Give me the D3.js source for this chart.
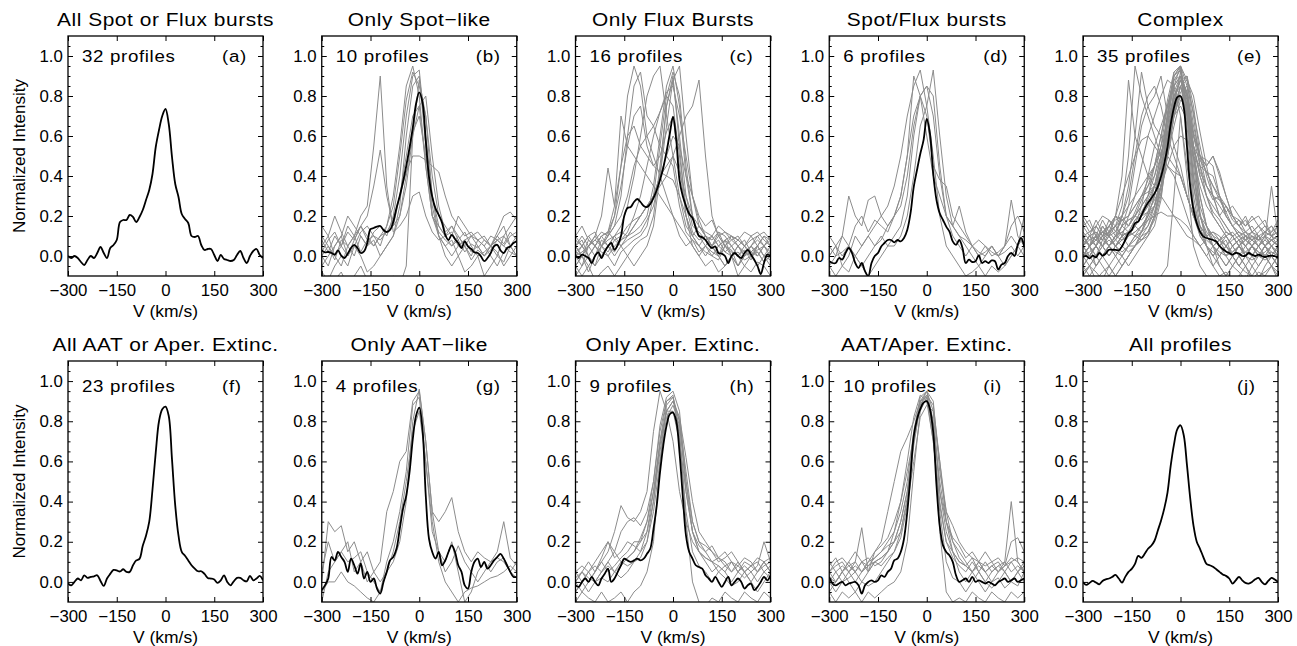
<!DOCTYPE html>
<html><head><meta charset="utf-8">
<script src="https://cdn.jsdelivr.net/npm/d3@7"></script>
<style>body{margin:0;background:#fff}text{font-family:"Liberation Sans",Arial,Helvetica,sans-serif;fill:#000;font-weight:normal}</style>
</head><body><svg id="c" width="1297" height="646"></svg>
<script>
// ---------------- DATA ----------------
const vFine = d3.range(-300, 301, 10);    // velocity grid of the mean profiles (km/s)
const vCoarse = d3.range(-300, 301, 20);  // velocity grid of individual profiles (km/s)
const xTicks = [-300, -150, 0, 150, 300];
const yTicks = [0, 0.2, 0.4, 0.6, 0.8, 1.0];
const xDomain = [-300, 300];
const yDomain = [-0.1, 1.1];

const panelTitles = ["All Spot or Flux bursts","Only Spot\u2212like","Only Flux Bursts","Spot/Flux bursts","Complex",
  "All AAT or Aper. Extinc.","Only AAT\u2212like","Only Aper. Extinc.","AAT/Aper. Extinc.","All profiles"];
const panelLetters = ["(a)","(b)","(c)","(d)","(e)","(f)","(g)","(h)","(i)","(j)"];
const profileCounts = ["32 profiles","10 profiles","16 profiles","6 profiles","35 profiles",
  "23 profiles","4 profiles","9 profiles","10 profiles",""];

const meanA = [0.0,-0.01,0.0,-0.01,-0.03,-0.045,-0.02,0.0,-0.01,0.015,
 0.045,0.015,-0.01,0.04,0.055,0.08,0.17,0.18,0.18,0.205,
 0.195,0.17,0.195,0.23,0.28,0.33,0.41,0.545,0.63,0.70,
 0.735,
 0.66,0.495,0.36,0.295,0.21,0.185,0.165,0.10,0.095,0.10,
 0.055,0.03,0.035,0.035,0.005,-0.025,0.005,-0.015,-0.02,-0.025,
 -0.02,0.005,0.025,-0.01,-0.035,0.0,0.025,0.035,0.005,-0.01];
const meanB = [0.028,0.018,0.02,0.015,0.007,0.028,0.002,-0.01,0.012,0.04,
 0.056,0.04,0.015,0.023,0.065,0.134,0.14,0.147,0.15,0.13,
 0.12,0.13,0.17,0.24,0.3,0.37,0.45,0.54,0.64,0.76,
 0.818,
 0.768,0.578,0.396,0.296,0.238,0.205,0.167,0.106,0.08,0.106,
 0.085,0.065,0.04,0.073,0.048,0.035,0.018,0.015,-0.002,-0.026,
 -0.01,0.015,0.048,0.056,0.028,0.015,0.04,0.048,0.065,0.073];
const meanC = [0.0,-0.01,0.007,0.0,-0.01,-0.035,0.0,0.018,-0.01,0.023,
 0.048,0.065,0.031,0.056,0.1,0.2,0.24,0.245,0.27,0.285,
 0.27,0.25,0.245,0.26,0.29,0.33,0.38,0.44,0.52,0.61,
 0.695,
 0.58,0.38,0.3,0.25,0.21,0.19,0.14,0.1,0.094,0.08,
 0.056,0.04,0.048,0.015,0.012,0.0,-0.035,0.0,0.015,0.0,
 -0.01,0.015,0.031,0.007,-0.018,-0.05,-0.09,-0.035,0.007,0.0];
const meanD = [-0.026,-0.035,-0.035,-0.01,-0.018,0.015,0.04,0.015,-0.035,-0.06,
 -0.035,-0.076,-0.1,-0.035,0.0,0.015,0.048,0.065,0.08,0.08,
 0.068,0.08,0.073,0.09,0.13,0.213,0.346,0.43,0.51,0.578,
 0.685,
 0.61,0.41,0.28,0.213,0.18,0.147,0.122,0.073,0.056,0.08,
 0.04,-0.035,-0.018,-0.03,-0.026,0.003,-0.035,-0.026,-0.035,-0.022,
 -0.026,-0.068,-0.043,-0.035,0.0,0.015,0.0,0.056,0.09,0.048];
const meanE = [-0.005,0,-0.012,0.002,-0.007,0.015,0.002,0.012,0.031,0.031,
 0.031,0.028,0.048,0.08,0.114,0.13,0.164,0.172,0.205,0.238,
 0.266,0.288,0.313,0.346,0.396,0.462,0.545,0.66,0.743,0.793,
 0.8,
 0.743,0.545,0.346,0.23,0.164,0.122,0.098,0.09,0.085,0.08,
 0.073,0.05,0.035,0.023,0.015,0.007,0.015,0.012,0.0,0.002,
 0.015,0.007,0,0.007,0,-0.005,0,0.002,0,-0.01];
const meanF = [-0.008,-0.017,0.0,0.017,0.008,0.033,0.02,0.025,0.028,0.033,
 0.005,-0.02,0.017,0.04,0.06,0.057,0.052,0.063,0.05,0.05,
 0.083,0.107,0.115,0.18,0.23,0.3,0.46,0.645,0.8,0.86,
 0.873,
 0.826,0.61,0.38,0.23,0.15,0.13,0.107,0.083,0.066,0.053,
 0.053,0.04,0.02,0.017,0.012,-0.005,0.008,0.033,0.0,-0.017,
 0.003,0.02,0.02,0.008,0.003,0.03,0.008,0.017,0.03,0.008];
const meanG = [-0.04,-0.017,0.017,0.124,0.107,0.149,0.124,0.1,0.05,0.116,
 0.083,0.041,0.091,0.017,0.05,0.0,0.017,-0.033,-0.058,0.0,
 0.05,0.107,0.124,0.165,0.264,0.364,0.43,0.545,0.71,0.826,
 0.868,
 0.76,0.43,0.215,0.149,0.116,0.149,0.083,0.107,0.149,0.182,
 0.149,0.083,0.05,-0.017,-0.033,0.05,0.1,0.116,0.074,0.1,
 0.066,0.083,0.107,0.124,0.14,0.116,0.083,0.05,0.025,0.025];
const meanH = [-0.017,-0.025,0,0.017,0,0.025,0,-0.017,0.017,0.041,
 0.066,0,0.017,0.05,0.083,0.116,0.107,0.1,0.107,0.116,
 0.107,0.116,0.14,0.165,0.264,0.38,0.545,0.678,0.777,0.835,
 0.843,
 0.8,0.645,0.43,0.231,0.149,0.116,0.083,0.074,0.066,0.033,
 0.017,0,0.025,0,-0.025,0,0.025,-0.017,0,0.017,
 0,-0.033,-0.017,-0.008,-0.041,-0.025,0,0.025,0.008,0.033];
const meanI = [0.025,-0.008,-0.017,-0.008,0,-0.017,-0.008,-0.003,0,-0.017,
 -0.058,-0.017,0,0.008,0,0.008,0.033,0.025,0.05,0.066,
 0.107,0.116,0.149,0.215,0.347,0.529,0.727,0.81,0.86,0.893,
 0.9,
 0.86,0.744,0.48,0.28,0.182,0.149,0.132,0.1,0.033,0,
 0.008,0.017,0,0.025,0,0.008,0,-0.008,0,-0.008,
 -0.017,0,0.008,0.017,0,0.008,0.017,0,0.008,0.017];
const meanJ = [0.0,-0.015,-0.005,0.005,-0.003,-0.012,0.005,0.013,0.017,0.025,
 0.035,0.017,-0.003,0.025,0.05,0.065,0.09,0.13,0.12,0.14,
 0.165,0.18,0.205,0.255,0.305,0.365,0.445,0.58,0.685,0.76,
 0.78,
 0.73,0.58,0.415,0.28,0.2,0.165,0.125,0.09,0.083,0.075,
 0.063,0.05,0.037,0.03,0.017,-0.008,0.008,0.025,0.008,-0.005,
 -0.008,0.0,0.013,0.02,0.0,-0.012,0.005,0.02,0.012,0.0];

const grayB = [
 [0.02,0.08,0.12,0.05,0.15,0.1,0.2,0.25,0.55,0.9,0.35,0.12,0.15,0.2,0.3,0.32,0.2,0.12,0.08,0.1,0.05,0.08,0.02,0.06,0.04,0.08,0.05,0.1,0.06,0.12,0.08],
 [0.0,-0.05,0.05,0.1,0.0,0.08,0.15,0.2,0.35,0.53,0.3,0.15,0.3,0.5,0.7,0.75,0.45,0.2,0.1,0.05,0.08,0.0,0.05,-0.02,0.03,0.0,0.05,0.02,-0.05,0.0,0.05],
 [0.1,0.05,0.0,-0.05,0.05,0.1,0.02,0.08,0.05,0.1,0.15,0.3,0.55,0.85,0.95,0.8,0.45,0.2,0.15,0.1,0.12,0.05,0.08,0.1,0.05,0.0,0.05,0.08,0.1,0.05,0.0],
 [-0.05,0.0,0.05,0.1,0.2,0.15,0.1,0.05,0.12,0.15,0.1,0.2,0.4,0.7,0.9,0.93,0.6,0.3,0.15,0.1,0.15,0.08,0.12,0.05,0.0,0.02,0.05,0.0,0.1,0.15,0.2],
 [0.05,0.1,0.0,0.05,0.12,0.08,0.15,0.1,0.05,0.1,0.12,0.18,0.3,0.42,0.5,0.5,0.48,0.45,0.42,0.3,0.2,0.15,0.1,0.12,0.08,0.05,0.1,0.08,0.05,0.1,0.12],
 [-0.15,-0.1,-0.12,-0.08,-0.15,-0.1,-0.05,-0.12,-0.1,-0.15,-0.12,-0.1,-0.15,-0.05,0.6,0.88,0.7,0.3,0.1,0.05,0.0,0.05,0.08,0.02,0.05,0.0,0.03,0.08,0.05,0.02,0.0],
 [0.15,0.1,0.2,0.12,0.05,0.1,0.15,0.08,0.1,0.05,0.15,0.25,0.5,0.78,0.92,0.85,0.7,0.4,0.2,0.15,0.1,0.2,0.15,0.1,0.08,0.1,0.05,0.12,0.2,0.22,0.18],
 [0.0,0.05,-0.02,0.08,0.05,0.0,0.1,0.05,0.08,0.0,0.05,0.1,0.25,0.6,0.85,0.9,0.55,0.2,0.12,0.08,0.05,0.1,0.05,0.0,0.08,0.05,0.0,-0.05,0.02,0.05,0.0],
 [0.08,0.02,0.1,0.05,0.0,0.05,0.12,0.15,0.1,0.08,0.12,0.15,0.2,0.35,0.6,0.75,0.8,0.5,0.25,0.12,0.15,0.1,0.05,0.1,0.12,0.08,0.05,0.1,0.15,0.05,0.1],
 [-0.08,-0.12,-0.05,0.0,-0.05,0.05,0.0,-0.08,-0.05,0.0,0.05,0.1,0.2,0.4,0.62,0.7,0.5,0.25,0.1,0.0,-0.05,0.0,-0.08,-0.05,0.0,-0.1,-0.05,0.0,-0.03,0.05,0.08]
];
const grayC = [
 [0.05,0.0,0.08,0.05,0.1,0.12,0.2,0.45,0.8,0.95,0.85,0.6,0.5,0.4,0.3,0.2,0.1,0.05,0.08,0.02,0.05,0.0,-0.02,0.05,0.03,-0.05,0.0,0.05,0.02,-0.03,0.0],
 [0.0,0.05,0.0,-0.05,0.05,0.1,0.15,0.3,0.6,0.85,0.92,0.7,0.65,0.55,0.5,0.45,0.25,0.12,0.08,0.05,0.1,0.05,0.0,0.08,0.05,0.0,0.03,-0.02,0.05,0.0,-0.05],
 [-0.05,0.0,0.05,0.1,0.2,0.44,0.25,0.7,0.55,0.5,0.45,0.4,0.35,0.3,0.25,0.2,0.15,0.1,0.05,0.0,0.05,0.02,0.0,-0.05,0.0,0.05,0.02,0.0,0.03,0.05,0.0],
 [0.05,0.0,-0.05,0.0,0.05,0.02,0.08,0.05,0.1,0.15,0.2,0.25,0.3,0.35,0.4,0.5,0.6,0.7,0.75,0.88,0.5,0.2,0.1,0.05,0.08,0.05,0.0,0.05,0.1,0.05,0.02],
 [0.0,-0.05,0.05,0.0,0.08,0.05,0.1,0.15,0.25,0.4,0.6,0.8,0.9,0.95,0.7,0.5,0.3,0.15,0.1,0.05,0.0,0.05,0.08,0.02,0.0,-0.05,0.02,0.05,0.0,0.05,0.08],
 [0.1,0.05,0.0,0.05,0.02,0.0,0.05,0.08,0.1,0.12,0.15,0.2,0.35,0.6,0.85,0.95,0.75,0.4,0.2,0.1,0.08,0.05,0.1,0.05,0.0,0.05,0.08,0.02,0.05,0.0,0.05],
 [-0.05,0.0,-0.08,0.0,0.05,0.0,-0.05,0.02,0.05,0.08,0.1,0.15,0.3,0.55,0.8,0.92,0.8,0.45,0.2,0.1,0.05,0.1,0.05,0.02,0.05,0.0,-0.05,0.0,0.02,-0.03,0.0],
 [0.02,0.05,0.1,0.05,0.0,0.05,0.1,0.05,0.08,0.1,0.12,0.18,0.25,0.4,0.65,0.88,0.95,0.6,0.3,0.15,0.1,0.05,0.12,0.1,0.05,0.08,0.05,0.0,0.05,0.1,0.05],
 [0.05,0.08,0.0,0.05,0.1,0.05,0.0,0.05,0.0,0.05,0.08,0.1,0.2,0.45,0.75,0.88,0.6,0.3,0.15,0.12,0.08,0.1,0.05,0.08,0.1,0.05,0.0,0.05,0.08,0.05,0.1],
 [0.0,0.02,0.05,0.08,0.05,0.1,0.15,0.2,0.3,0.45,0.55,0.6,0.65,0.72,0.8,0.75,0.5,0.25,0.12,0.08,0.1,0.05,0.0,0.05,0.02,0.0,0.05,0.02,0.0,0.05,0.0],
 [-0.1,-0.05,0.0,-0.05,0.0,0.05,0.02,0.08,0.12,0.2,0.3,0.45,0.6,0.72,0.82,0.85,0.7,0.5,0.3,0.18,0.1,0.05,0.0,-0.05,0.0,0.02,-0.02,0.0,-0.05,0.0,-0.02],
 [-0.05,-0.1,-0.05,-0.12,-0.08,-0.05,-0.1,-0.05,0.0,-0.05,0.0,0.05,0.15,0.4,0.75,0.9,0.55,0.2,0.05,0.0,-0.05,-0.02,-0.08,-0.05,0.0,-0.1,-0.05,-0.08,-0.03,-0.05,-0.1],
 [0.05,0.1,0.05,0.08,0.12,0.1,0.2,0.35,0.55,0.7,0.75,0.55,0.45,0.5,0.62,0.7,0.45,0.2,0.1,0.15,0.1,0.08,0.12,0.05,0.1,0.08,0.05,0.1,0.12,0.08,0.05],
 [0.08,0.05,0.1,0.12,0.05,0.08,0.1,0.12,0.1,0.15,0.2,0.25,0.3,0.4,0.5,0.6,0.55,0.4,0.3,0.2,0.15,0.18,0.1,0.12,0.08,0.1,0.05,0.08,0.1,0.12,0.08],
 [0.02,0.0,0.05,0.1,0.05,0.12,0.25,0.45,0.6,0.65,0.55,0.5,0.45,0.42,0.4,0.38,0.3,0.2,0.1,0.05,0.02,0.0,0.05,0.08,0.0,-0.05,0.0,0.02,0.05,0.0,0.02],
 [0.1,0.15,0.08,0.05,0.1,0.12,0.08,0.1,0.15,0.18,0.2,0.25,0.3,0.4,0.45,0.5,0.42,0.3,0.2,0.15,0.12,0.1,0.15,0.12,0.1,0.08,0.12,0.1,0.05,0.1,0.08]
];
const grayD = [
 [0.0,0.05,-0.05,0.0,0.1,0.05,0.1,0.15,0.2,0.25,0.35,0.5,0.7,0.85,0.93,0.75,0.93,0.6,0.3,0.15,0.1,0.05,0.0,-0.05,0.0,0.05,0.0,0.05,0.1,0.05,0.0],
 [0.05,0.0,0.1,0.3,0.2,0.15,0.28,0.3,0.2,0.15,0.2,0.3,0.5,0.9,0.8,0.6,0.4,0.3,0.2,0.15,0.1,0.08,0.05,0.0,0.02,0.05,0.0,0.05,0.28,0.1,0.05],
 [-0.05,0.0,0.02,0.05,0.0,0.05,0.1,0.05,0.08,0.15,0.2,0.3,0.5,0.7,0.8,0.85,0.7,0.4,0.2,0.15,0.25,0.12,0.05,0.0,0.05,0.02,0.0,-0.05,0.0,0.05,0.2],
 [-0.05,-0.1,-0.05,-0.08,0.0,-0.05,-0.1,-0.05,0.0,0.05,0.05,0.1,0.2,0.4,0.65,0.75,0.5,0.2,0.05,0.0,-0.05,-0.1,-0.08,-0.05,-0.1,-0.05,-0.08,-0.05,0.0,0.05,0.1],
 [0.0,0.05,0.1,0.05,0.15,0.2,0.12,0.18,0.15,0.12,0.2,0.25,0.4,0.65,0.8,0.7,0.45,0.38,0.35,0.2,0.15,0.1,0.05,0.08,0.05,0.0,0.02,0.05,0.15,0.2,0.12],
 [0.1,0.05,0.0,0.05,0.0,-0.05,0.0,0.05,0.1,0.05,0.1,0.15,0.3,0.6,0.8,0.85,0.8,0.45,0.2,0.1,0.05,0.0,0.05,0.02,0.0,0.05,0.0,0.02,0.05,0.0,0.05]
];
const grayE = [
 [0.05,0.1,0.05,0.15,0.1,0.2,0.4,0.88,0.6,0.5,0.4,0.35,0.3,0.25,0.2,0.15,0.1,0.08,0.05,0.0,0.05,0.02,0.0,0.05,0.0,0.02,0.05,0.0,0.05,0.02,0.0],
 [0.0,0.05,0.1,0.05,0.12,0.15,0.25,0.5,0.95,0.8,0.7,0.6,0.5,0.45,0.4,0.3,0.2,0.1,0.05,0.08,0.05,0.0,-0.05,0.0,0.05,0.0,-0.02,0.0,0.05,0.0,-0.05],
 [0.1,0.05,0.15,0.1,0.18,0.12,0.2,0.35,0.6,0.92,0.75,0.65,0.6,0.5,0.45,0.4,0.3,0.2,0.15,0.1,0.12,0.08,0.1,0.05,0.08,0.1,0.05,0.0,0.05,0.08,0.1],
 [0.05,0.0,0.05,0.1,0.05,0.1,0.15,0.25,0.45,0.65,0.75,0.8,0.9,0.7,0.55,0.45,0.3,0.2,0.12,0.1,0.05,0.08,0.05,0.0,0.05,0.02,0.0,0.05,0.0,-0.05,0.0],
 [-0.05,0.0,0.05,0.0,0.05,0.1,0.2,0.3,0.5,0.7,0.8,0.85,0.75,0.6,0.5,0.4,0.3,0.2,0.1,0.05,0.0,0.05,0.0,-0.05,0.0,0.05,0.0,-0.05,0.0,0.02,0.0],
 [0.0,0.05,0.1,0.08,0.12,0.15,0.1,0.2,0.3,0.45,0.6,0.7,0.8,0.88,0.85,0.7,0.45,0.25,0.15,0.1,0.12,0.1,0.05,0.08,0.1,0.05,0.08,0.1,0.05,0.0,0.05],
 [0.15,0.1,0.18,0.12,0.15,0.2,0.15,0.18,0.2,0.25,0.3,0.4,0.55,0.75,0.9,0.95,0.85,0.6,0.45,0.35,0.3,0.25,0.2,0.15,0.18,0.12,0.15,0.1,0.12,0.15,0.1],
 [0.0,-0.05,0.0,0.05,0.0,0.05,0.1,0.05,0.08,0.12,0.2,0.3,0.45,0.7,0.9,0.95,0.75,0.4,0.2,0.1,0.05,0.08,0.02,0.0,0.05,0.0,-0.05,0.0,0.05,0.0,-0.05],
 [-0.1,-0.05,-0.12,-0.08,-0.05,-0.1,-0.05,0.0,0.05,0.1,0.15,0.25,0.4,0.65,0.88,0.93,0.7,0.35,0.15,0.05,0.0,-0.05,-0.1,-0.05,-0.08,-0.12,-0.05,-0.1,-0.08,-0.05,-0.1],
 [0.05,0.1,0.08,0.15,0.1,0.12,0.18,0.2,0.25,0.3,0.35,0.45,0.6,0.78,0.92,0.95,0.88,0.65,0.5,0.45,0.5,0.4,0.3,0.2,0.15,0.1,0.12,0.08,0.1,0.05,0.08],
 [0.1,0.05,0.0,0.05,0.1,0.05,0.08,0.1,0.15,0.2,0.25,0.35,0.5,0.7,0.85,0.9,0.82,0.6,0.5,0.48,0.45,0.3,0.2,0.15,0.1,0.12,0.08,0.05,0.1,0.08,0.05],
 [0.0,0.05,-0.05,0.0,0.05,0.02,0.0,0.05,0.1,0.08,0.12,0.2,0.35,0.6,0.82,0.9,0.65,0.3,0.12,0.05,0.0,0.05,0.08,0.0,-0.05,0.0,0.05,0.02,0.0,0.05,0.0],
 [0.2,0.15,0.1,0.18,0.12,0.15,0.1,0.12,0.18,0.2,0.25,0.3,0.42,0.6,0.8,0.88,0.8,0.55,0.4,0.3,0.25,0.2,0.25,0.18,0.15,0.2,0.12,0.15,0.18,0.1,0.12],
 [-0.05,0.0,0.05,0.0,-0.05,0.0,0.05,0.1,0.15,0.25,0.4,0.55,0.65,0.75,0.85,0.9,0.8,0.55,0.3,0.15,0.08,0.05,0.0,0.05,0.0,-0.05,0.0,0.05,0.0,-0.05,0.0],
 [0.05,0.08,0.1,0.05,0.0,0.05,0.1,0.12,0.1,0.15,0.2,0.25,0.35,0.55,0.78,0.88,0.9,0.7,0.45,0.3,0.2,0.15,0.1,0.12,0.08,0.05,0.1,0.08,0.12,0.1,0.05],
 [0.1,0.12,0.15,0.2,0.18,0.15,0.2,0.25,0.3,0.35,0.4,0.45,0.55,0.68,0.8,0.85,0.75,0.55,0.42,0.35,0.3,0.28,0.25,0.2,0.18,0.15,0.2,0.15,0.12,0.15,0.1],
 [0.0,0.05,0.1,0.05,0.08,0.05,0.0,0.05,0.05,0.1,0.12,0.18,0.3,0.5,0.75,0.92,0.8,0.45,0.2,0.12,0.08,0.05,0.1,0.05,0.08,0.0,0.05,0.1,0.05,0.08,0.1],
 [-0.08,-0.05,0.0,-0.05,-0.1,-0.05,0.0,-0.05,0.0,0.05,0.1,0.2,0.35,0.55,0.75,0.85,0.7,0.4,0.2,0.1,0.05,0.0,-0.05,0.0,-0.05,-0.08,-0.1,-0.05,0.0,-0.05,-0.08],
 [0.12,0.08,0.05,0.1,0.15,0.1,0.12,0.15,0.2,0.28,0.35,0.4,0.5,0.62,0.78,0.88,0.82,0.62,0.5,0.42,0.35,0.3,0.22,0.15,0.12,0.1,0.08,0.12,0.15,0.1,0.12],
 [0.05,0.0,0.05,0.1,0.05,0.08,0.12,0.1,0.15,0.12,0.18,0.25,0.4,0.68,0.92,0.95,0.72,0.35,0.2,0.15,0.1,0.08,0.12,0.1,0.05,0.08,0.12,0.1,0.05,0.1,0.15],
 [0.0,0.05,0.0,0.08,0.12,0.2,0.18,0.15,0.2,0.25,0.3,0.35,0.45,0.6,0.75,0.8,0.7,0.5,0.35,0.25,0.2,0.15,0.1,0.05,0.08,0.05,0.0,0.05,0.08,0.05,0.0],
 [0.08,0.05,0.1,0.05,0.0,0.05,0.02,0.05,0.1,0.12,0.15,0.22,0.35,0.52,0.7,0.82,0.85,0.72,0.55,0.4,0.3,0.2,0.15,0.1,0.05,0.08,0.05,0.0,0.05,0.08,0.05],
 [-0.05,-0.1,-0.05,0.0,0.05,0.0,-0.05,0.0,0.05,0.08,0.12,0.2,0.32,0.5,0.7,0.8,0.72,0.5,0.3,0.15,0.05,-0.05,-0.1,-0.05,0.0,-0.05,-0.1,-0.12,-0.05,0.0,-0.05],
 [0.15,0.18,0.1,0.12,0.15,0.18,0.2,0.15,0.22,0.3,0.38,0.45,0.52,0.6,0.7,0.75,0.68,0.55,0.48,0.42,0.35,0.28,0.22,0.25,0.2,0.15,0.18,0.2,0.15,0.12,0.15],
 [0.0,0.02,0.05,0.0,0.05,0.08,0.05,0.1,0.12,0.15,0.2,0.3,0.48,0.72,0.9,0.93,0.8,0.5,0.25,0.15,0.1,0.05,0.0,0.02,0.05,0.0,0.05,0.0,0.02,0.05,0.0],
 [0.05,0.1,0.12,0.08,0.05,0.1,0.15,0.12,0.18,0.22,0.28,0.35,0.45,0.58,0.72,0.85,0.88,0.8,0.62,0.45,0.3,0.2,0.15,0.1,0.12,0.08,0.1,0.05,0.08,0.35,0.1],
 [-0.1,-0.05,-0.08,-0.12,-0.05,-0.1,-0.05,0.0,0.05,0.12,0.22,0.35,0.5,0.65,0.8,0.88,0.78,0.5,0.22,0.05,-0.05,-0.1,-0.08,-0.12,-0.1,-0.05,-0.12,-0.08,-0.1,-0.05,-0.12],
 [0.1,0.05,0.08,0.12,0.1,0.15,0.18,0.2,0.25,0.3,0.32,0.35,0.4,0.5,0.65,0.78,0.75,0.6,0.5,0.45,0.5,0.42,0.3,0.2,0.15,0.12,0.1,0.08,0.12,0.1,0.08],
 [0.02,0.0,-0.05,0.0,0.05,0.0,0.05,0.02,0.05,0.08,0.1,0.15,0.28,0.55,0.85,0.95,0.6,0.25,0.1,0.05,0.02,0.0,0.05,0.0,-0.05,0.0,0.05,0.0,-0.02,0.0,0.05],
 [0.05,0.1,0.05,0.0,0.05,0.1,0.08,0.12,0.15,0.2,0.3,0.45,0.6,0.75,0.88,0.9,0.75,0.55,0.4,0.3,0.22,0.18,0.12,0.1,0.05,0.1,0.08,0.05,0.1,0.05,0.08],
 [0.0,0.05,0.08,0.05,0.1,0.05,0.1,0.12,0.15,0.2,0.22,0.28,0.35,0.45,0.55,0.6,0.58,0.5,0.45,0.42,0.4,0.3,0.2,0.15,0.1,0.08,0.05,0.1,0.05,0.08,0.05],
 [-0.15,-0.1,-0.12,-0.15,-0.1,-0.12,-0.15,-0.1,-0.12,-0.1,-0.15,-0.12,-0.1,-0.05,0.3,0.7,0.4,0.05,-0.05,-0.1,-0.12,-0.15,-0.1,-0.12,-0.15,-0.1,-0.12,-0.1,-0.15,-0.12,-0.1],
 [0.18,0.12,0.15,0.1,0.12,0.08,0.15,0.18,0.2,0.18,0.22,0.25,0.35,0.5,0.7,0.85,0.9,0.75,0.5,0.35,0.28,0.3,0.25,0.2,0.15,0.18,0.12,0.15,0.1,0.12,0.18],
 [0.05,0.1,0.12,0.08,0.15,0.2,0.3,0.4,0.5,0.58,0.6,0.55,0.5,0.45,0.42,0.4,0.3,0.2,0.12,0.1,0.05,0.08,0.05,0.1,0.05,0.0,0.05,0.08,0.05,0.0,0.05],
 [0.1,0.05,0.08,0.12,0.1,0.05,0.08,0.1,0.12,0.15,0.18,0.2,0.22,0.2,0.2,0.18,0.15,0.1,0.05,0.0,-0.05,0.0,0.05,0.02,0.05,0.0,0.05,0.02,0.0,0.05,0.02]
];
const grayG = [
 [0.0,0.3,0.25,0.28,0.15,0.2,0.1,0.15,0.05,0.1,0.35,0.45,0.6,0.65,0.9,0.95,0.7,0.35,0.3,0.35,0.42,0.25,0.15,0.1,0.15,0.12,0.1,0.15,0.3,0.12,0.08],
 [-0.1,0.05,0.1,0.15,0.1,0.12,0.15,0.05,0.0,-0.05,0.1,0.2,0.35,0.55,0.88,0.92,0.6,0.25,0.15,0.1,0.2,0.05,-0.1,-0.05,0.05,0.1,0.05,0.1,0.12,0.05,0.02],
 [-0.05,0.0,0.0,0.05,0.0,-0.02,-0.05,-0.08,-0.1,-0.05,0.05,0.15,0.3,0.5,0.75,0.85,0.6,0.3,0.1,0.0,-0.05,-0.1,-0.05,-0.03,-0.02,0.0,0.02,0.03,0.05,0.08,0.05],
 [0.05,0.2,0.1,0.15,0.2,0.05,0.1,0.0,0.05,0.0,0.05,0.1,0.2,0.4,0.8,0.96,0.7,0.35,0.15,0.05,0.1,0.18,0.1,0.05,0.0,0.05,0.1,0.12,0.1,0.05,0.1]
];
const grayH = [
 [0.0,0.05,0.0,0.05,0.1,0.15,0.25,0.38,0.32,0.3,0.35,0.45,0.75,0.95,0.85,0.7,0.45,0.3,0.2,0.15,0.12,0.1,0.08,0.05,0.1,0.05,0.08,0.05,0.0,0.05,0.02],
 [-0.05,0.0,0.05,0.0,0.05,0.1,0.15,0.25,0.3,0.32,0.28,0.35,0.5,0.75,0.9,0.92,0.8,0.45,0.25,0.18,0.15,0.1,0.12,0.08,0.05,0.1,0.05,0.08,0.1,0.05,0.08],
 [-0.1,-0.05,-0.08,-0.1,-0.05,-0.1,-0.08,-0.05,-0.1,-0.05,-0.02,0.05,0.2,0.6,0.88,0.92,0.75,0.3,0.0,-0.1,-0.12,-0.08,-0.1,-0.05,-0.08,-0.1,-0.05,-0.08,-0.1,-0.05,-0.08],
 [0.05,0.0,0.05,0.08,0.05,0.1,0.05,0.08,0.12,0.15,0.2,0.3,0.5,0.78,0.92,0.95,0.85,0.5,0.25,0.15,0.12,0.1,0.05,0.08,0.1,0.05,0.1,0.08,0.05,0.1,0.12],
 [0.0,-0.05,0.0,0.05,0.1,0.05,0.08,0.12,0.15,0.2,0.2,0.25,0.4,0.65,0.85,0.9,0.8,0.55,0.3,0.2,0.15,0.18,0.12,0.1,0.05,0.08,0.05,0.0,0.05,0.1,0.05],
 [0.05,0.08,0.05,0.1,0.15,0.2,0.12,0.15,0.2,0.18,0.15,0.2,0.35,0.6,0.82,0.88,0.78,0.5,0.3,0.2,0.18,0.15,0.1,0.12,0.15,0.1,0.05,0.08,0.12,0.1,0.05],
 [-0.05,0.0,-0.05,0.0,0.02,0.0,0.05,0.02,0.05,0.1,0.12,0.2,0.4,0.7,0.9,0.93,0.72,0.35,0.15,0.08,0.05,0.0,0.05,0.02,-0.02,0.0,0.05,0.0,-0.05,0.0,0.05],
 [0.02,0.05,0.1,0.05,0.12,0.2,0.15,0.1,0.12,0.15,0.22,0.3,0.45,0.68,0.85,0.9,0.82,0.62,0.4,0.25,0.2,0.15,0.12,0.15,0.1,0.08,0.12,0.1,0.05,0.08,0.1],
 [0.0,0.05,0.02,0.0,0.05,0.08,0.05,0.1,0.08,0.1,0.15,0.25,0.45,0.7,0.85,0.85,0.7,0.45,0.25,0.15,0.1,0.05,0.08,0.05,0.0,0.05,0.02,0.05,0.08,0.2,0.1]
];
const grayI = [
 [0.05,0.0,0.05,0.1,0.05,0.1,0.05,0.15,0.2,0.35,0.5,0.65,0.72,0.8,0.9,0.92,0.7,0.4,0.2,0.15,0.1,0.08,0.05,0.1,0.05,0.08,0.05,0.1,0.05,0.08,0.05],
 [0.1,0.05,0.08,0.05,0.1,0.27,0.05,0.1,0.12,0.15,0.2,0.3,0.45,0.7,0.9,0.95,0.8,0.45,0.25,0.15,0.1,0.08,0.12,0.05,0.1,0.05,0.08,0.1,0.4,0.1,0.05],
 [-0.05,-0.1,-0.05,-0.08,-0.05,-0.1,-0.05,-0.08,-0.05,-0.02,0.0,0.05,0.2,0.55,0.85,0.92,0.75,0.25,-0.05,-0.1,-0.08,-0.1,-0.05,-0.08,-0.1,-0.05,-0.08,-0.1,-0.05,-0.08,-0.05],
 [0.0,0.05,0.0,0.05,0.08,0.05,0.1,0.12,0.15,0.2,0.25,0.35,0.5,0.75,0.92,0.95,0.85,0.45,0.3,0.2,0.15,0.1,0.05,0.08,0.05,0.0,0.05,0.08,0.2,0.22,0.15],
 [0.05,0.08,0.1,0.05,0.0,0.05,0.1,0.15,0.18,0.22,0.3,0.4,0.6,0.82,0.93,0.9,0.7,0.38,0.2,0.12,0.08,0.05,0.1,0.05,0.0,0.05,0.08,0.05,0.1,0.05,0.08],
 [-0.05,0.0,0.05,0.0,-0.05,0.0,0.05,0.1,0.12,0.15,0.2,0.3,0.45,0.7,0.88,0.93,0.88,0.6,0.3,0.15,0.05,0.0,0.05,0.0,-0.05,0.0,0.02,-0.03,0.0,0.05,0.0],
 [0.08,0.12,0.05,0.1,0.15,0.1,0.12,0.08,0.1,0.15,0.25,0.4,0.55,0.72,0.88,0.95,0.9,0.55,0.35,0.28,0.2,0.15,0.12,0.1,0.15,0.1,0.12,0.08,0.1,0.12,0.1],
 [0.0,-0.05,0.0,0.02,0.05,0.0,-0.02,0.0,0.05,0.1,0.15,0.25,0.42,0.7,0.9,0.93,0.75,0.35,0.1,0.02,0.0,-0.05,0.0,0.05,0.0,-0.03,0.0,0.05,0.0,-0.02,0.05],
 [0.05,0.1,0.12,0.08,0.05,0.1,0.08,0.12,0.15,0.18,0.2,0.25,0.4,0.68,0.88,0.9,0.78,0.5,0.3,0.22,0.18,0.12,0.15,0.1,0.08,0.1,0.05,0.08,0.12,0.1,0.05],
 [0.02,0.0,0.05,0.08,0.1,0.05,0.08,0.1,0.08,0.12,0.15,0.22,0.38,0.6,0.82,0.88,0.85,0.6,0.35,0.2,0.12,0.08,0.05,0.1,0.05,0.08,0.1,0.05,0.0,0.05,0.1]
];

// ---------------- LAYOUT ----------------
const meansAll = [meanA,meanB,meanC,meanD,meanE,meanF,meanG,meanH,meanI,meanJ];
const graysAll = [[],grayB,grayC,grayD,grayE,[],grayG,grayH,grayI,[]];
const FONT = '"Liberation Sans",Arial,Helvetica,sans-serif';
const L0 = 68, STEP = 253.75, W = 195;
const TOPS = [36, 361], HEIGHTS = [240, 241];
const countOffset = [26, 30.5];

const svg = d3.select("#c");
const defs = svg.append("defs");

function stretchText(g, x, y, str, size, sx, anchor, ls) {
  return g.append("text")
    .attr("transform", `translate(${x},${y}) scale(${sx},1)`)
    .attr("text-anchor", anchor || "start")
    .style("font-size", size + "px")
    .style("letter-spacing", (ls || 0) + "px")
    .text(str);
}

for (let p = 0; p < 10; p++) {
  const row = Math.floor(p / 5), col = p % 5;
  const left = L0 + col * STEP, top = TOPS[row], h = HEIGHTS[row];
  const x = d3.scaleLinear().domain(xDomain).range([left, left + W]);
  const y = d3.scaleLinear().domain(yDomain).range([top + h, top]);
  const g = svg.append("g");

  const clipId = "clip" + p;
  defs.append("clipPath").attr("id", clipId)
    .append("rect").attr("x", left).attr("y", top).attr("width", W).attr("height", h);

  const plot = g.append("g").attr("clip-path", `url(#${clipId})`);
  const grayLine = d3.line().x((d, i) => x(vCoarse[i])).y(d => y(d));
  plot.selectAll("path.gray").data(graysAll[p]).join("path")
    .attr("class", "gray")
    .attr("d", grayLine)
    .attr("fill", "none").attr("stroke", "#8c8c8c").attr("stroke-width", 1);

  const meanLine = d3.line().x((d, i) => x(vFine[i])).y(d => y(d)).curve(d3.curveCatmullRom);
  plot.append("path").datum(meansAll[p]).attr("d", meanLine)
    .attr("fill", "none").attr("stroke", "#000").attr("stroke-width", 1.8)
    .attr("stroke-linejoin", "round");

  // axes
  const minorY = d3.range(-0.1, 1.1001, 0.05).map(v => +v.toFixed(2)).filter(v => !yTicks.includes(v) && v > -0.1 && v < 1.1);
  const styleAxis = sel => { sel.select(".domain").remove(); sel.selectAll("line").attr("stroke", "#000").attr("stroke-width", 1); };

  const xb = g.append("g").attr("transform", `translate(0,${top + h})`)
    .call(d3.axisBottom(x).tickValues(xTicks).tickSize(-5).tickPadding(8.5).tickFormat(d3.format("d")));
  styleAxis(xb);
  xb.selectAll("text").attr("transform", "scale(1.05,1)")
    .style("font-size", "16px").style("font-family", FONT).attr("fill", "#000");
  const xt = g.append("g").attr("transform", `translate(0,${top})`)
    .call(d3.axisTop(x).tickValues(xTicks).tickSize(-5).tickFormat(""));
  styleAxis(xt);

  const yl = g.append("g").attr("transform", `translate(${left},0)`)
    .call(d3.axisLeft(y).tickValues(yTicks).tickSize(-5).tickPadding(5).tickFormat(d3.format(".1f")));
  styleAxis(yl);
  yl.selectAll("text").style("font-size", "16px").style("font-family", FONT).attr("fill", "#000")
    .attr("transform", "scale(1.05,1)");
  const ylm = g.append("g").attr("transform", `translate(${left},0)`)
    .call(d3.axisLeft(y).tickValues(minorY).tickSize(-2.5).tickFormat(""));
  styleAxis(ylm);
  const yr = g.append("g").attr("transform", `translate(${left + W},0)`)
    .call(d3.axisRight(y).tickValues(yTicks).tickSize(-5).tickFormat(""));
  styleAxis(yr);
  const yrm = g.append("g").attr("transform", `translate(${left + W},0)`)
    .call(d3.axisRight(y).tickValues(minorY).tickSize(-2.5).tickFormat(""));
  styleAxis(yrm);

  // frame
  g.append("rect").attr("x", left).attr("y", top).attr("width", W).attr("height", h)
    .attr("fill", "none").attr("stroke", "#000").attr("stroke-width", 1.3);

  // texts
  stretchText(g, left + W / 2, top - 10, panelTitles[p], 19, 1.1, "middle", 0.5);
  if (profileCounts[p]) stretchText(g, left + 14, top + countOffset[row], profileCounts[p], 17, 1.1, "start", 0.6);
  stretchText(g, left + 154, top + countOffset[row], panelLetters[p], 17, 1.1, "start", 0.6);
  stretchText(g, left + W / 2, top + h + 41, "V (km/s)", 16.5, 1.06, "middle", 0);

  if (col === 0) {
    g.append("text")
      .attr("transform", `translate(25,${top + h / 2}) rotate(-90)`)
      .attr("text-anchor", "middle")
      .style("font-size", "17px")
      .text("Normalized Intensity");
  }
}
</script>
</body></html>
